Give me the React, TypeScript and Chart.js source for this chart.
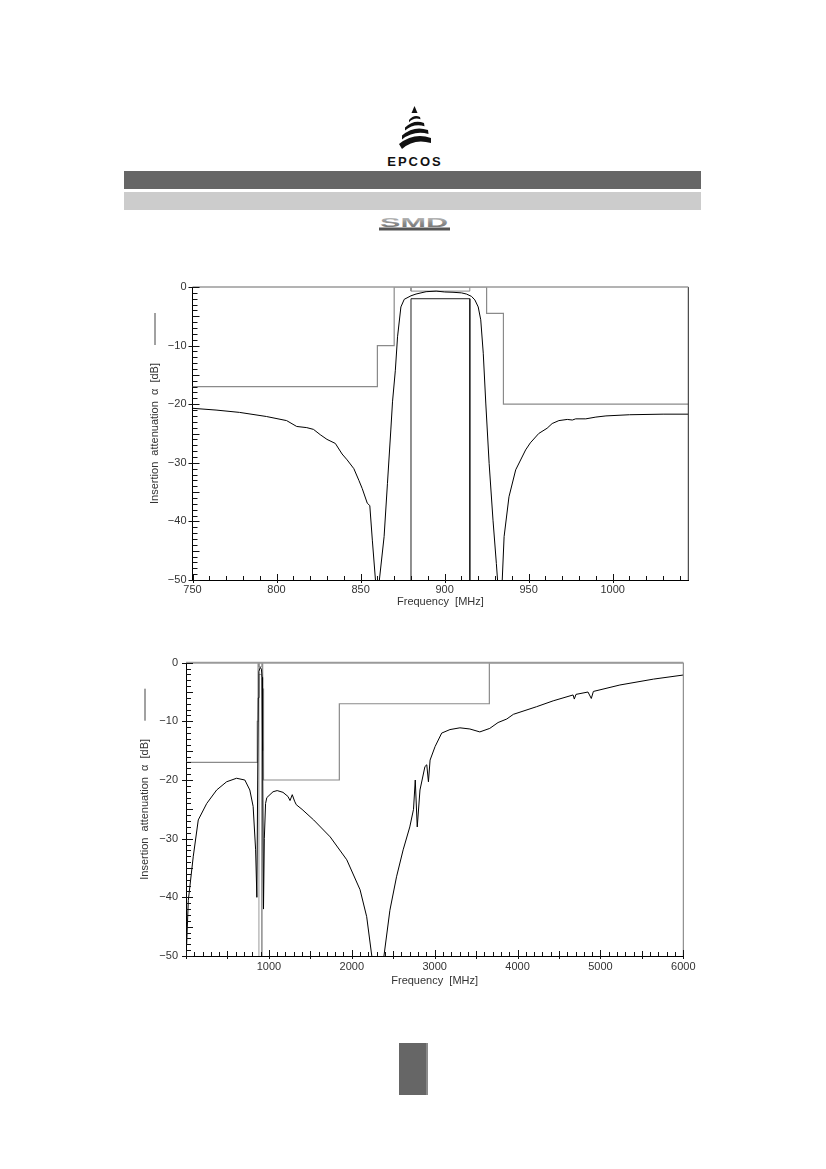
import React, { useEffect, useRef } from 'react';
import { Chart, registerables } from 'chart.js';

Chart.register(...registerables);

// ---------- Narrow-band plot (750 .. 1045 MHz) ----------
const NB_FREQ = [750, 764, 778, 794, 806, 812, 818, 822, 826, 830, 835, 839, 842, 846, 849, 851, 854, 855.5, 857, 859, 860, 861, 864, 866, 868, 869, 870.7, 872, 874, 876, 880, 883, 889, 895, 900, 905, 910, 913, 916, 918, 920, 921.5, 923, 924.5, 926.5, 928.8, 930.8, 932, 933, 934, 935.4, 938.3, 942.3, 948.2, 951, 956, 961, 964, 968, 973, 976, 978, 984, 990, 996, 1010, 1030, 1045];
const NB_ATT = [-20.7, -21.0, -21.4, -22.1, -22.8, -23.8, -24.0, -24.3, -25.2, -26.0, -26.7, -28.5, -29.5, -31.0, -33.0, -34.4, -36.9, -37.3, -43.2, -50.5, -55, -50.5, -42.6, -33.5, -24.4, -19.6, -14.2, -8.5, -3.4, -2.1, -1.5, -1.2, -0.8, -0.7, -0.85, -0.9, -1.0, -1.2, -1.6, -2.2, -3.4, -5.6, -11.3, -19.8, -30.1, -39.8, -47.2, -52, -55, -52, -42.6, -35.8, -31.2, -27.8, -26.6, -25.0, -24.1, -23.3, -22.8, -22.6, -22.7, -22.5, -22.5, -22.2, -22.0, -21.8, -21.7, -21.7];
const NB_MASK_F = [750, 860, 860, 870, 870, 925, 925, 935, 935, 1045];
const NB_MASK_A = [-17, -17, -10, -10, 0, 0, -4.5, -4.5, -20, -20];
const NB_XTICKS = [750, 800, 850, 900, 950, 1000];

// ---------- Wide-band plot (0 .. 6000 MHz) ----------
const WB_FREQ = [8, 28, 88, 148, 250, 370, 490, 610, 710, 770, 810, 840, 855, 865, 872, 880, 895, 910, 918, 924, 935, 945, 960, 975, 1050, 1100, 1170, 1230, 1255, 1282, 1310, 1330, 1400, 1540, 1740, 1940, 2100, 2180, 2260, 2370, 2460, 2540, 2620, 2700, 2745, 2766, 2790, 2823, 2883, 2905, 2925, 2945, 3005, 3085, 3185, 3305, 3425, 3545, 3665, 3765, 3870, 3950, 4230, 4430, 4670, 4685, 4705, 4850, 4890, 4915, 5235, 5640, 6000];
const WB_ATT = [-48, -40.5, -33, -26.8, -24, -21.7, -20.3, -19.7, -20, -21.7, -24.5, -31.9, -40, -20, -6, -1.5, -0.8, -1.1, -2.5, -15, -42, -30, -24, -23, -22, -21.8, -22.1, -22.8, -23.5, -22.5, -23.6, -24.2, -25, -26.8, -29.7, -33.6, -38.7, -43.3, -52, -52, -42.2, -36.5, -31.9, -28, -25, -20, -28, -21.7, -17.7, -17.4, -20.3, -16.6, -14.3, -12, -11.4, -11.1, -11.3, -11.8, -11.2, -10.2, -9.6, -8.8, -7.5, -6.5, -5.5, -6.2, -5.4, -5, -6.1, -4.9, -3.8, -2.8, -2.1];
const WB_MASK_F = [0, 860, 860, 870, 870, 925, 925, 935, 935, 1850, 1850, 3660, 3660, 6000];
const WB_MASK_A = [-17, -17, -10, -10, 0, 0, -4.5, -4.5, -20, -20, -7, -7, 0, 0];
const WB_XTICKS = [1000, 2000, 3000, 4000, 5000, 6000];

// ---------- Pass band (shared) ----------
const PB_F = [880, 880, 915, 915];
const PB_MIN_A = [-50, -2, -2, -50];
const PB_MAX_A = [0, -0.7, -0.7, 0];

const Y_TICKS = [-50, -40, -30, -20, -10, 0];

const pts = (xs: number[], ys: number[]) => xs.map((x, i) => ({ x, y: ys[i] }));

const FONT = '"Liberation Sans", Arial, sans-serif';

const frameTicks = {
  id: 'frameTicks',
  afterDatasetsDraw(chart: any, _args: any, o: any) {
    const { ctx, chartArea: a } = chart;
    const xs = chart.scales.x;
    const ys = chart.scales.y;
    const line = (x1: number, y1: number, x2: number, y2: number) => {
      ctx.beginPath();
      ctx.moveTo(x1, y1);
      ctx.lineTo(x2, y2);
      ctx.stroke();
    };
    ctx.save();
    ctx.lineWidth = 1;
    ctx.strokeStyle = o.rightColor;
    line(a.right, a.top, a.right, a.bottom);
    ctx.lineWidth = o.topWidth;
    ctx.strokeStyle = o.topColor;
    line(a.left, a.top, a.right, a.top);

    ctx.strokeStyle = '#111';
    ctx.lineWidth = 1;
    const n0 = Math.ceil(xs.min / o.xMinor);
    const n1 = Math.floor(xs.max / o.xMinor);
    for (let n = n0; n <= n1; n++) {
      const v = n * o.xMinor;
      const px = Math.round(xs.getPixelForValue(v)) + 0.5;
      const major = v % o.xMajor === 0;
      const mid = v % o.xMid === 0;
      const up = major ? 6 : mid ? 5 : 4;
      const down = major ? 3 : mid ? 3 : 0;
      line(px, a.bottom + down, px, a.bottom - up);
    }
    const m0 = Math.ceil(ys.min / o.yMinor);
    const m1 = Math.floor(ys.max / o.yMinor);
    for (let n = m0; n <= m1; n++) {
      const v = n * o.yMinor;
      const py = Math.round(ys.getPixelForValue(v)) + 0.5;
      const major = v % o.yMajor === 0;
      const mid = v % o.yMid === 0;
      const right = major ? 7 : mid ? 7 : 5;
      const left = major ? 4 : 0;
      line(a.left - left, py, a.left + right, py);
    }
    // legend marker of the solid curve, next to the axis title
    ctx.strokeStyle = '#444';
    line(o.legendX, a.top + o.legendY1, o.legendX, a.top + o.legendY2);
    ctx.restore();
  },
};

type PlotProps = {
  left: number; top: number; width: number; height: number;
  freq: number[]; att: number[]; maskF: number[]; maskA: number[];
  xMin: number; xMax: number; xTicks: number[];
  yAxisW: number; xAxisH: number; padTop: number; padRight: number;
  yTitlePad: number; xTitlePad: number; yLabelPad: number; xLabelPad: number;
  xMinor: number; xMid: number; xMajor: number;
  pbColor: string; topColor: string; topWidth: number; rightColor: string;
};

function Plot(p: PlotProps) {
  const ref = useRef<HTMLCanvasElement | null>(null);
  useEffect(() => {
    if (!ref.current) return;
    const chart = new Chart(ref.current, {
      type: 'line',
      data: {
        datasets: [
          { data: pts(p.freq, p.att), borderColor: '#000', borderWidth: 1, pointRadius: 0, tension: 0, fill: false },
          { data: pts(PB_F, PB_MIN_A), borderColor: p.pbColor, borderWidth: 1, pointRadius: 0, tension: 0, fill: false },
          { data: pts(PB_F, PB_MAX_A), borderColor: '#8a8a8a', borderWidth: 1, pointRadius: 0, tension: 0, fill: false },
          { data: pts(p.maskF, p.maskA), borderColor: '#8a8a8a', borderWidth: 1.2, pointRadius: 0, tension: 0, fill: false },
        ],
      },
      options: {
        animation: false,
        responsive: false,
        maintainAspectRatio: false,
        devicePixelRatio: 1,
        events: [],
        layout: { padding: { left: 0, top: p.padTop, right: p.padRight, bottom: 0 } },
        plugins: {
          legend: { display: false },
          tooltip: { enabled: false },
          frameTicks: {
            xMinor: p.xMinor, xMid: p.xMid, xMajor: p.xMajor,
            yMinor: 1, yMid: 5, yMajor: 10,
            topColor: p.topColor, topWidth: p.topWidth, rightColor: p.rightColor,
            legendX: 25, legendY1: 26, legendY2: 58,
          },
        } as any,
        scales: {
          x: {
            type: 'linear',
            min: p.xMin,
            max: p.xMax,
            grid: { display: false, drawTicks: false },
            border: { display: true, color: '#000', width: 1 },
            afterBuildTicks: (s: any) => { s.ticks = p.xTicks.map((v) => ({ value: v })); },
            afterFit: (s: any) => { s.height = p.xAxisH; },
            ticks: {
              autoSkip: false, maxRotation: 0, padding: p.xLabelPad,
              color: '#333', font: { family: FONT, size: 11 },
              callback: (v: any) => String(v),
            },
            title: {
              display: true, text: 'Frequency  [MHz]', color: '#333',
              font: { family: FONT, size: 11 }, padding: { top: 0, bottom: p.xTitlePad },
            },
          },
          y: {
            type: 'linear',
            min: -50,
            max: 0,
            grid: { display: false, drawTicks: false },
            border: { display: true, color: '#000', width: 1 },
            afterBuildTicks: (s: any) => { s.ticks = Y_TICKS.map((v) => ({ value: v })); },
            afterFit: (s: any) => { s.width = p.yAxisW; },
            ticks: {
              padding: p.yLabelPad, color: '#333', font: { family: FONT, size: 11 },
              callback: (v: any) => (Number(v) === 0 ? '0' : '\u2212' + Math.abs(Number(v))),
            },
            title: {
              display: true, text: 'Insertion  attenuation  \u03B1  [dB]', color: '#333',
              font: { family: FONT, size: 11 }, padding: { top: p.yTitlePad, bottom: 0 },
            },
          },
        },
      },
      plugins: [frameTicks],
    } as any);
    return () => chart.destroy();
  }, []);
  return (
    <canvas
      ref={ref}
      width={p.width}
      height={p.height}
      style={{ position: 'absolute', left: p.left, top: p.top, width: p.width, height: p.height }}
    />
  );
}

function Logo() {
  return (
    <>
      <svg width={826} height={245} style={{ position: 'absolute', left: 0, top: 0 }}>
        <polygon points="414.5,106 411.5,113 417.5,113" fill="#111" />
        <path d="M409,120 Q414,114 420,117 L420.5,119.3 Q414,117 409,122.3 Z" fill="#111" />
        <path d="M405,127.5 Q414,119 424,123 L424.5,126.3 Q414,123 405,130.5 Z" fill="#111" />
        <path d="M402,135.5 Q414,125 428,130 L428.5,134 Q414,130 402,139.5 Z" fill="#111" />
        <path d="M399,144 Q414,132 431,138 L431,143 Q414,138 402,149 Z" fill="#111" />
        <defs>
          <linearGradient id="smdg" x1="0" y1="0" x2="0" y2="1">
            <stop offset="0" stopColor="#c8c8c8" />
            <stop offset="0.5" stopColor="#8c8c8c" />
            <stop offset="1" stopColor="#6a6a6a" />
          </linearGradient>
        </defs>
        <text x={380} y={227} textLength={68} lengthAdjust="spacingAndGlyphs"
          fontFamily={FONT} fontWeight="bold" fontSize={12.5} fill="url(#smdg)">SMD</text>
        <rect x={379} y={227.5} width={71} height={3} fill="#555" />
      </svg>
      <div style={{
        position: 'absolute', left: 378, top: 155, width: 70, textAlign: 'center',
        fontFamily: FONT, fontWeight: 'bold', fontSize: 13, lineHeight: '13px',
        letterSpacing: 2, paddingLeft: 2, color: '#111',
      }}>EPCOS</div>
    </>
  );
}

export default function App() {
  return (
    <div style={{ position: 'absolute', left: 0, top: 0, width: 826, height: 1169, background: '#fff', overflow: 'hidden', fontFamily: FONT }}>
      <Logo />
      <div style={{ position: 'absolute', left: 124, top: 171, width: 577, height: 18, background: '#666' }} />
      <div style={{ position: 'absolute', left: 124, top: 192, width: 577, height: 18, background: '#ccc' }} />

      <Plot
        left={130} top={270} width={570} height={350}
        freq={NB_FREQ} att={NB_ATT} maskF={NB_MASK_F} maskA={NB_MASK_A}
        xMin={750} xMax={1045} xTicks={NB_XTICKS}
        yAxisW={62.5} xAxisH={40} padTop={17} padRight={11.7}
        yTitlePad={18.4} xTitlePad={11.4} yLabelPad={6} xLabelPad={3}
        xMinor={10} xMid={50} xMajor={50}
        pbColor="#222" topColor="#9a9a9a" topWidth={1.5} rightColor="#222"
      />
      <Plot
        left={120} top={645} width={580} height={355}
        freq={WB_FREQ} att={WB_ATT} maskF={WB_MASK_F} maskA={WB_MASK_A}
        xMin={0} xMax={6000} xTicks={WB_XTICKS}
        yAxisW={66} xAxisH={44} padTop={17.7} padRight={16.7}
        yTitlePad={18.4} xTitlePad={12.4} yLabelPad={8} xLabelPad={4}
        xMinor={100} xMid={500} xMajor={1000}
        pbColor="#999" topColor="#9a9a9a" topWidth={2} rightColor="#777"
      />

      <div style={{ position: 'absolute', left: 399, top: 1043, width: 27, height: 52, background: '#666', borderRight: '2px solid #8a8a8a' }} />
    </div>
  );
}
